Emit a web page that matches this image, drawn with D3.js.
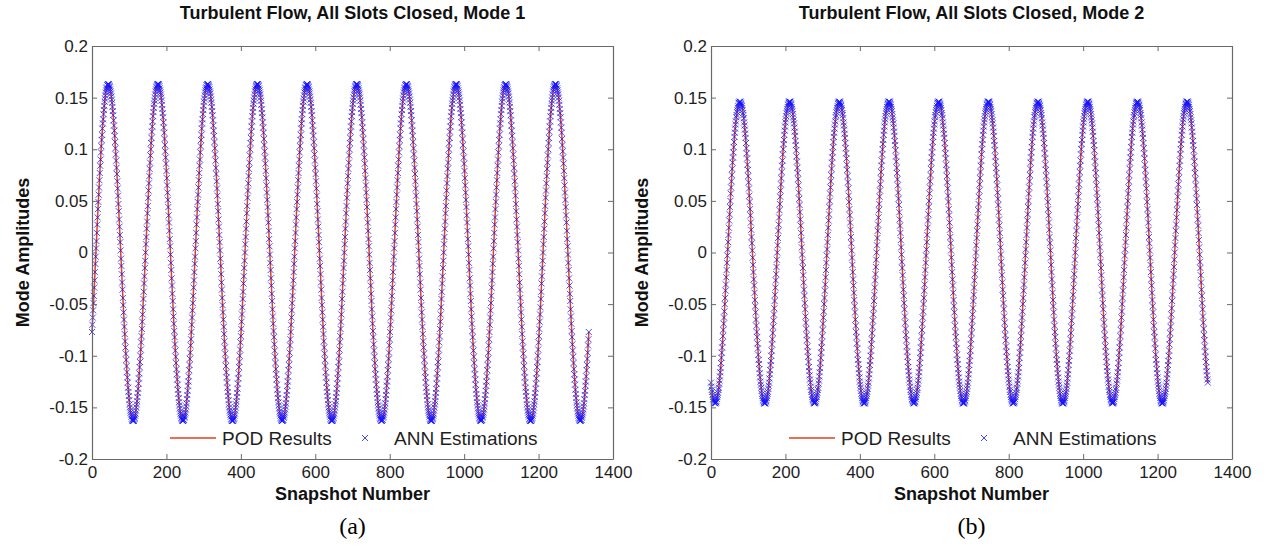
<!DOCTYPE html>
<html><head><meta charset="utf-8">
<script src="https://cdn.jsdelivr.net/npm/d3@7"></script>
<style>body{margin:0;background:#fff}svg{display:block}</style>
</head><body>
<svg id="chart" width="1267" height="551"></svg>
<script>
// ---------- data ----------
const titles = ["Turbulent Flow, All Slots Closed, Mode 1", "Turbulent Flow, All Slots Closed, Mode 2"];
const panelTags = ["(a)", "(b)"];
const seriesNames = ["POD Results", "ANN Estimations"];
const xTicks = [0, 200, 400, 600, 800, 1000, 1200, 1400];
const xTickLabels = ["0", "200", "400", "600", "800", "1000", "1200", "1400"];
const yTicks = [-0.2, -0.15, -0.1, -0.05, 0, 0.05, 0.1, 0.15, 0.2];
const yTickLabels = ["-0.2", "-0.15", "-0.1", "-0.05", "0", "0.05", "0.1", "0.15", "0.2"];

// POD mode amplitudes, one value per snapshot (0..1335)
const podMode1 = [
-.077,-.070,-.063,-.056,-.049,-.042,-.034,-.027,-.019,-.011,-.004,.004,.011,.019,.027,.034,.042,.049,.056,.063,.070,.077,.084,.090,.097,.103,.109,.114,.120,.125,.129,.134,.138,.142,.146,.149,.152,.155,.157,.159,.160,.162,.162,.163,.163,.163,.162,.161,.160,.158,.156,.154,.151,.148,.145,.141,.137,.133,.128,.123,.118,.113,.107,.101,.095,.089,.082,.076,.069,.062,.055,.047,.040,.032,.025,.017,.010,.002,-.006,-.013,-.021,-.029,-.036,-.044,-.051,-.058,-.065,-.072,-.079,-.086,-.092,-.098,-.104,-.110,-.116,-.121,-.126,-.131,-.135,-.139,-.143,-.147,-.150,-.153,-.155,-.157,-.159,-.161,-.162,-.163,-.163,-.163,-.163,-.162,-.161,-.160,-.158,-.156,-.153,-.150,-.147,-.144,-.140,-.136,-.132,-.127,-.122,-.117,-.111,-.106,-.100,-.094,-.087,-.081,-.074,-.067,-.060,-.053,-.045,-.038,-.030,-.023,-.015,-.008,0,.008,.015,.023,.030,.038,.045,.053,.060,.067,.074,.081,.087,.094,.100,.106,.111,.117,.122,.127,.132,.136,.140,.144,.147,.150,.153,.156,.158,.160,.161,.162,.163,.163,.163,.163,.162,.161,.159,.157,.155,.153,.150,.147,.143,.139,.135,.131,.126,.121,.116,.110,.104,.098,.092,.086,.079,.072,.065,.058,.051,.044,.036,.029,.021,.013,.006,-.002,-.010,-.017,-.025,-.032,-.040,-.047,-.055,-.062,-.069,-.076,-.082,-.089,-.095,-.101,-.107,-.113,-.118,-.123,-.128,-.133,-.137,-.141,-.145,-.148,-.151,-.154,-.156,-.158,-.160,-.161,-.162,-.163,-.163,-.163,-.162,-.162,-.160,-.159,-.157,-.155,-.152,-.149,-.146,-.142,-.138,-.134,-.129,-.125,-.120,-.114,-.109,-.103,-.097,-.090,-.084,
-.077,-.070,-.063,-.056,-.049,-.042,-.034,-.027,-.019,-.011,-.004,.004,.011,.019,.027,.034,.042,.049,.056,.063,.070,.077,.084,.090,.097,.103,.109,.114,.120,.125,.129,.134,.138,.142,.146,.149,.152,.155,.157,.159,.160,.162,.162,.163,.163,.163,.162,.161,.160,.158,.156,.154,.151,.148,.145,.141,.137,.133,.128,.123,.118,.113,.107,.101,.095,.089,.082,.076,.069,.062,.055,.047,.040,.032,.025,.017,.010,.002,-.006,-.013,-.021,-.029,-.036,-.044,-.051,-.058,-.065,-.072,-.079,-.086,-.092,-.098,-.104,-.110,-.116,-.121,-.126,-.131,-.135,-.139,-.143,-.147,-.150,-.153,-.155,-.157,-.159,-.161,-.162,-.163,-.163,-.163,-.163,-.162,-.161,-.160,-.158,-.156,-.153,-.150,-.147,-.144,-.140,-.136,-.132,-.127,-.122,-.117,-.111,-.106,-.100,-.094,-.087,-.081,-.074,-.067,-.060,-.053,-.045,-.038,-.030,-.023,-.015,-.008,0,.008,.015,.023,.030,.038,.045,.053,.060,.067,.074,.081,.087,.094,.100,.106,.111,.117,.122,.127,.132,.136,.140,.144,.147,.150,.153,.156,.158,.160,.161,.162,.163,.163,.163,.163,.162,.161,.159,.157,.155,.153,.150,.147,.143,.139,.135,.131,.126,.121,.116,.110,.104,.098,.092,.086,.079,.072,.065,.058,.051,.044,.036,.029,.021,.013,.006,-.002,-.010,-.017,-.025,-.032,-.040,-.047,-.055,-.062,-.069,-.076,-.082,-.089,-.095,-.101,-.107,-.113,-.118,-.123,-.128,-.133,-.137,-.141,-.145,-.148,-.151,-.154,-.156,-.158,-.160,-.161,-.162,-.163,-.163,-.163,-.162,-.162,-.160,-.159,-.157,-.155,-.152,-.149,-.146,-.142,-.138,-.134,-.129,-.125,-.120,-.114,-.109,-.103,-.097,-.090,-.084,
-.077,-.070,-.063,-.056,-.049,-.042,-.034,-.027,-.019,-.011,-.004,.004,.011,.019,.027,.034,.042,.049,.056,.063,.070,.077,.084,.090,.097,.103,.109,.114,.120,.125,.129,.134,.138,.142,.146,.149,.152,.155,.157,.159,.160,.162,.162,.163,.163,.163,.162,.161,.160,.158,.156,.154,.151,.148,.145,.141,.137,.133,.128,.123,.118,.113,.107,.101,.095,.089,.082,.076,.069,.062,.055,.047,.040,.032,.025,.017,.010,.002,-.006,-.013,-.021,-.029,-.036,-.044,-.051,-.058,-.065,-.072,-.079,-.086,-.092,-.098,-.104,-.110,-.116,-.121,-.126,-.131,-.135,-.139,-.143,-.147,-.150,-.153,-.155,-.157,-.159,-.161,-.162,-.163,-.163,-.163,-.163,-.162,-.161,-.160,-.158,-.156,-.153,-.150,-.147,-.144,-.140,-.136,-.132,-.127,-.122,-.117,-.111,-.106,-.100,-.094,-.087,-.081,-.074,-.067,-.060,-.053,-.045,-.038,-.030,-.023,-.015,-.008,0,.008,.015,.023,.030,.038,.045,.053,.060,.067,.074,.081,.087,.094,.100,.106,.111,.117,.122,.127,.132,.136,.140,.144,.147,.150,.153,.156,.158,.160,.161,.162,.163,.163,.163,.163,.162,.161,.159,.157,.155,.153,.150,.147,.143,.139,.135,.131,.126,.121,.116,.110,.104,.098,.092,.086,.079,.072,.065,.058,.051,.044,.036,.029,.021,.013,.006,-.002,-.010,-.017,-.025,-.032,-.040,-.047,-.055,-.062,-.069,-.076,-.082,-.089,-.095,-.101,-.107,-.113,-.118,-.123,-.128,-.133,-.137,-.141,-.145,-.148,-.151,-.154,-.156,-.158,-.160,-.161,-.162,-.163,-.163,-.163,-.162,-.162,-.160,-.159,-.157,-.155,-.152,-.149,-.146,-.142,-.138,-.134,-.129,-.125,-.120,-.114,-.109,-.103,-.097,-.090,-.084,
-.077,-.070,-.063,-.056,-.049,-.042,-.034,-.027,-.019,-.011,-.004,.004,.011,.019,.027,.034,.042,.049,.056,.063,.070,.077,.084,.090,.097,.103,.109,.114,.120,.125,.129,.134,.138,.142,.146,.149,.152,.155,.157,.159,.160,.162,.162,.163,.163,.163,.162,.161,.160,.158,.156,.154,.151,.148,.145,.141,.137,.133,.128,.123,.118,.113,.107,.101,.095,.089,.082,.076,.069,.062,.055,.047,.040,.032,.025,.017,.010,.002,-.006,-.013,-.021,-.029,-.036,-.044,-.051,-.058,-.065,-.072,-.079,-.086,-.092,-.098,-.104,-.110,-.116,-.121,-.126,-.131,-.135,-.139,-.143,-.147,-.150,-.153,-.155,-.157,-.159,-.161,-.162,-.163,-.163,-.163,-.163,-.162,-.161,-.160,-.158,-.156,-.153,-.150,-.147,-.144,-.140,-.136,-.132,-.127,-.122,-.117,-.111,-.106,-.100,-.094,-.087,-.081,-.074,-.067,-.060,-.053,-.045,-.038,-.030,-.023,-.015,-.008,0,.008,.015,.023,.030,.038,.045,.053,.060,.067,.074,.081,.087,.094,.100,.106,.111,.117,.122,.127,.132,.136,.140,.144,.147,.150,.153,.156,.158,.160,.161,.162,.163,.163,.163,.163,.162,.161,.159,.157,.155,.153,.150,.147,.143,.139,.135,.131,.126,.121,.116,.110,.104,.098,.092,.086,.079,.072,.065,.058,.051,.044,.036,.029,.021,.013,.006,-.002,-.010,-.017,-.025,-.032,-.040,-.047,-.055,-.062,-.069,-.076,-.082,-.089,-.095,-.101,-.107,-.113,-.118,-.123,-.128,-.133,-.137,-.141,-.145,-.148,-.151,-.154,-.156,-.158,-.160,-.161,-.162,-.163,-.163,-.163,-.162,-.162,-.160,-.159,-.157,-.155,-.152,-.149,-.146,-.142,-.138,-.134,-.129,-.125,-.120,-.114,-.109,-.103,-.097,-.090,-.084,
-.077,-.070,-.063,-.056,-.049,-.042,-.034,-.027,-.019,-.011,-.004,.004,.011,.019,.027,.034,.042,.049,.056,.063,.070,.077,.084,.090,.097,.103,.109,.114,.120,.125,.129,.134,.138,.142,.146,.149,.152,.155,.157,.159,.160,.162,.162,.163,.163,.163,.162,.161,.160,.158,.156,.154,.151,.148,.145,.141,.137,.133,.128,.123,.118,.113,.107,.101,.095,.089,.082,.076,.069,.062,.055,.047,.040,.032,.025,.017,.010,.002,-.006,-.013,-.021,-.029,-.036,-.044,-.051,-.058,-.065,-.072,-.079,-.086,-.092,-.098,-.104,-.110,-.116,-.121,-.126,-.131,-.135,-.139,-.143,-.147,-.150,-.153,-.155,-.157,-.159,-.161,-.162,-.163,-.163,-.163,-.163,-.162,-.161,-.160,-.158,-.156,-.153,-.150,-.147,-.144,-.140,-.136,-.132,-.127,-.122,-.117,-.111,-.106,-.100,-.094,-.087,-.081,-.074,-.067,-.060,-.053,-.045,-.038,-.030,-.023,-.015,-.008,0,.008,.015,.023,.030,.038,.045,.053,.060,.067,.074,.081,.087,.094,.100,.106,.111,.117,.122,.127,.132,.136,.140,.144,.147,.150,.153,.156,.158,.160,.161,.162,.163,.163,.163,.163,.162,.161,.159,.157,.155,.153,.150,.147,.143,.139,.135,.131,.126,.121,.116,.110,.104,.098,.092,.086,.079,.072,.065,.058,.051,.044,.036,.029,.021,.013,.006,-.002,-.010,-.017,-.025,-.032,-.040,-.047,-.055,-.062,-.069,-.076,-.082,-.089,-.095,-.101,-.107,-.113,-.118,-.123,-.128,-.133,-.137,-.141,-.145,-.148,-.151,-.154,-.156,-.158,-.160,-.161,-.162,-.163,-.163,-.163,-.162,-.162,-.160,-.159,-.157,-.155,-.152,-.149,-.146,-.142,-.138,-.134,-.129,-.125,-.120,-.114,-.109,-.103,-.097,-.090,-.084,
-.077];

const podMode2 = [
-.126,-.130,-.133,-.135,-.138,-.140,-.142,-.143,-.144,-.145,-.146,-.146,-.146,-.145,-.145,-.144,-.142,-.140,-.138,-.136,-.133,-.131,-.127,-.124,-.120,-.116,-.112,-.107,-.102,-.097,-.092,-.087,-.081,-.075,-.069,-.063,-.057,-.050,-.044,-.037,-.031,-.024,-.017,-.010,-.003,.003,.010,.017,.024,.031,.037,.044,.050,.057,.063,.069,.075,.081,.087,.092,.097,.102,.107,.112,.116,.120,.124,.127,.131,.133,.136,.138,.140,.142,.144,.145,.145,.146,.146,.146,.145,.144,.143,.142,.140,.138,.135,.133,.130,.126,.123,.119,.115,.111,.106,.101,.096,.091,.085,.080,.074,.068,.062,.055,.049,.042,.036,.029,.022,.015,.009,.002,-.005,-.012,-.019,-.026,-.032,-.039,-.046,-.052,-.058,-.065,-.071,-.077,-.082,-.088,-.093,-.099,-.104,-.108,-.113,-.117,-.121,-.125,-.128,-.131,-.134,-.137,-.139,-.141,-.143,-.144,-.145,-.146,-.146,-.146,-.146,-.145,-.144,-.143,-.141,-.139,-.137,-.135,-.132,-.129,-.126,-.122,-.118,-.114,-.109,-.105,-.100,-.095,-.089,-.084,-.078,-.072,-.066,-.060,-.054,-.047,-.041,-.034,-.027,-.021,-.014,-.007,0,.007,.014,.021,.027,.034,.041,.047,.054,.060,.066,.072,.078,.084,.089,.095,.100,.105,.109,.114,.118,.122,.126,.129,.132,.135,.137,.139,.141,.143,.144,.145,.146,.146,.146,.146,.145,.144,.143,.141,.139,.137,.134,.131,.128,.125,.121,.117,.113,.108,.104,.099,.093,.088,.082,.077,.071,.065,.058,.052,.046,.039,.032,.026,.019,.012,.005,-.002,-.009,-.015,-.022,-.029,-.036,-.042,-.049,-.055,-.062,-.068,-.074,-.080,-.085,-.091,-.096,-.101,-.106,-.111,-.115,-.119,-.123,
-.126,-.130,-.133,-.135,-.138,-.140,-.142,-.143,-.144,-.145,-.146,-.146,-.146,-.145,-.145,-.144,-.142,-.140,-.138,-.136,-.133,-.131,-.127,-.124,-.120,-.116,-.112,-.107,-.102,-.097,-.092,-.087,-.081,-.075,-.069,-.063,-.057,-.050,-.044,-.037,-.031,-.024,-.017,-.010,-.003,.003,.010,.017,.024,.031,.037,.044,.050,.057,.063,.069,.075,.081,.087,.092,.097,.102,.107,.112,.116,.120,.124,.127,.131,.133,.136,.138,.140,.142,.144,.145,.145,.146,.146,.146,.145,.144,.143,.142,.140,.138,.135,.133,.130,.126,.123,.119,.115,.111,.106,.101,.096,.091,.085,.080,.074,.068,.062,.055,.049,.042,.036,.029,.022,.015,.009,.002,-.005,-.012,-.019,-.026,-.032,-.039,-.046,-.052,-.058,-.065,-.071,-.077,-.082,-.088,-.093,-.099,-.104,-.108,-.113,-.117,-.121,-.125,-.128,-.131,-.134,-.137,-.139,-.141,-.143,-.144,-.145,-.146,-.146,-.146,-.146,-.145,-.144,-.143,-.141,-.139,-.137,-.135,-.132,-.129,-.126,-.122,-.118,-.114,-.109,-.105,-.100,-.095,-.089,-.084,-.078,-.072,-.066,-.060,-.054,-.047,-.041,-.034,-.027,-.021,-.014,-.007,0,.007,.014,.021,.027,.034,.041,.047,.054,.060,.066,.072,.078,.084,.089,.095,.100,.105,.109,.114,.118,.122,.126,.129,.132,.135,.137,.139,.141,.143,.144,.145,.146,.146,.146,.146,.145,.144,.143,.141,.139,.137,.134,.131,.128,.125,.121,.117,.113,.108,.104,.099,.093,.088,.082,.077,.071,.065,.058,.052,.046,.039,.032,.026,.019,.012,.005,-.002,-.009,-.015,-.022,-.029,-.036,-.042,-.049,-.055,-.062,-.068,-.074,-.080,-.085,-.091,-.096,-.101,-.106,-.111,-.115,-.119,-.123,
-.126,-.130,-.133,-.135,-.138,-.140,-.142,-.143,-.144,-.145,-.146,-.146,-.146,-.145,-.145,-.144,-.142,-.140,-.138,-.136,-.133,-.131,-.127,-.124,-.120,-.116,-.112,-.107,-.102,-.097,-.092,-.087,-.081,-.075,-.069,-.063,-.057,-.050,-.044,-.037,-.031,-.024,-.017,-.010,-.003,.003,.010,.017,.024,.031,.037,.044,.050,.057,.063,.069,.075,.081,.087,.092,.097,.102,.107,.112,.116,.120,.124,.127,.131,.133,.136,.138,.140,.142,.144,.145,.145,.146,.146,.146,.145,.144,.143,.142,.140,.138,.135,.133,.130,.126,.123,.119,.115,.111,.106,.101,.096,.091,.085,.080,.074,.068,.062,.055,.049,.042,.036,.029,.022,.015,.009,.002,-.005,-.012,-.019,-.026,-.032,-.039,-.046,-.052,-.058,-.065,-.071,-.077,-.082,-.088,-.093,-.099,-.104,-.108,-.113,-.117,-.121,-.125,-.128,-.131,-.134,-.137,-.139,-.141,-.143,-.144,-.145,-.146,-.146,-.146,-.146,-.145,-.144,-.143,-.141,-.139,-.137,-.135,-.132,-.129,-.126,-.122,-.118,-.114,-.109,-.105,-.100,-.095,-.089,-.084,-.078,-.072,-.066,-.060,-.054,-.047,-.041,-.034,-.027,-.021,-.014,-.007,0,.007,.014,.021,.027,.034,.041,.047,.054,.060,.066,.072,.078,.084,.089,.095,.100,.105,.109,.114,.118,.122,.126,.129,.132,.135,.137,.139,.141,.143,.144,.145,.146,.146,.146,.146,.145,.144,.143,.141,.139,.137,.134,.131,.128,.125,.121,.117,.113,.108,.104,.099,.093,.088,.082,.077,.071,.065,.058,.052,.046,.039,.032,.026,.019,.012,.005,-.002,-.009,-.015,-.022,-.029,-.036,-.042,-.049,-.055,-.062,-.068,-.074,-.080,-.085,-.091,-.096,-.101,-.106,-.111,-.115,-.119,-.123,
-.126,-.130,-.133,-.135,-.138,-.140,-.142,-.143,-.144,-.145,-.146,-.146,-.146,-.145,-.145,-.144,-.142,-.140,-.138,-.136,-.133,-.131,-.127,-.124,-.120,-.116,-.112,-.107,-.102,-.097,-.092,-.087,-.081,-.075,-.069,-.063,-.057,-.050,-.044,-.037,-.031,-.024,-.017,-.010,-.003,.003,.010,.017,.024,.031,.037,.044,.050,.057,.063,.069,.075,.081,.087,.092,.097,.102,.107,.112,.116,.120,.124,.127,.131,.133,.136,.138,.140,.142,.144,.145,.145,.146,.146,.146,.145,.144,.143,.142,.140,.138,.135,.133,.130,.126,.123,.119,.115,.111,.106,.101,.096,.091,.085,.080,.074,.068,.062,.055,.049,.042,.036,.029,.022,.015,.009,.002,-.005,-.012,-.019,-.026,-.032,-.039,-.046,-.052,-.058,-.065,-.071,-.077,-.082,-.088,-.093,-.099,-.104,-.108,-.113,-.117,-.121,-.125,-.128,-.131,-.134,-.137,-.139,-.141,-.143,-.144,-.145,-.146,-.146,-.146,-.146,-.145,-.144,-.143,-.141,-.139,-.137,-.135,-.132,-.129,-.126,-.122,-.118,-.114,-.109,-.105,-.100,-.095,-.089,-.084,-.078,-.072,-.066,-.060,-.054,-.047,-.041,-.034,-.027,-.021,-.014,-.007,0,.007,.014,.021,.027,.034,.041,.047,.054,.060,.066,.072,.078,.084,.089,.095,.100,.105,.109,.114,.118,.122,.126,.129,.132,.135,.137,.139,.141,.143,.144,.145,.146,.146,.146,.146,.145,.144,.143,.141,.139,.137,.134,.131,.128,.125,.121,.117,.113,.108,.104,.099,.093,.088,.082,.077,.071,.065,.058,.052,.046,.039,.032,.026,.019,.012,.005,-.002,-.009,-.015,-.022,-.029,-.036,-.042,-.049,-.055,-.062,-.068,-.074,-.080,-.085,-.091,-.096,-.101,-.106,-.111,-.115,-.119,-.123,
-.126,-.130,-.133,-.135,-.138,-.140,-.142,-.143,-.144,-.145,-.146,-.146,-.146,-.145,-.145,-.144,-.142,-.140,-.138,-.136,-.133,-.131,-.127,-.124,-.120,-.116,-.112,-.107,-.102,-.097,-.092,-.087,-.081,-.075,-.069,-.063,-.057,-.050,-.044,-.037,-.031,-.024,-.017,-.010,-.003,.003,.010,.017,.024,.031,.037,.044,.050,.057,.063,.069,.075,.081,.087,.092,.097,.102,.107,.112,.116,.120,.124,.127,.131,.133,.136,.138,.140,.142,.144,.145,.145,.146,.146,.146,.145,.144,.143,.142,.140,.138,.135,.133,.130,.126,.123,.119,.115,.111,.106,.101,.096,.091,.085,.080,.074,.068,.062,.055,.049,.042,.036,.029,.022,.015,.009,.002,-.005,-.012,-.019,-.026,-.032,-.039,-.046,-.052,-.058,-.065,-.071,-.077,-.082,-.088,-.093,-.099,-.104,-.108,-.113,-.117,-.121,-.125,-.128,-.131,-.134,-.137,-.139,-.141,-.143,-.144,-.145,-.146,-.146,-.146,-.146,-.145,-.144,-.143,-.141,-.139,-.137,-.135,-.132,-.129,-.126,-.122,-.118,-.114,-.109,-.105,-.100,-.095,-.089,-.084,-.078,-.072,-.066,-.060,-.054,-.047,-.041,-.034,-.027,-.021,-.014,-.007,0,.007,.014,.021,.027,.034,.041,.047,.054,.060,.066,.072,.078,.084,.089,.095,.100,.105,.109,.114,.118,.122,.126,.129,.132,.135,.137,.139,.141,.143,.144,.145,.146,.146,.146,.146,.145,.144,.143,.141,.139,.137,.134,.131,.128,.125,.121,.117,.113,.108,.104,.099,.093,.088,.082,.077,.071,.065,.058,.052,.046,.039,.032,.026,.019,.012,.005,-.002,-.009,-.015,-.022,-.029,-.036,-.042,-.049,-.055,-.062,-.068,-.074,-.080,-.085,-.091,-.096,-.101,-.106,-.111,-.115,-.119,-.123,
-.126];

// ANN estimations coincide with the POD results at every snapshot in the figure
const annMode1 = podMode1.slice();
const annMode2 = podMode2.slice();

// ---------- layout ----------
const W = 1267, H = 551;
const plotTop = 46, plotBottom = 459;
const panels = [
  {left: 92, right: 613, pod: podMode1, ann: annMode1, title: titles[0], tag: panelTags[0], ylabX: 22},
  {left: 711, right: 1232, pod: podMode2, ann: annMode2, title: titles[1], tag: panelTags[1], ylabX: 641}
];
const FONT = "'Liberation Sans', Arial, Helvetica, sans-serif";
const frameColor = "#6a6a6a";
const podColor = "#e2401a";
const annColor = "#1414ff";
const xMark = "M-3,-3L3,3M-3,3L3,-3";

const svg = d3.select("#chart");
svg.append("rect").attr("width", W).attr("height", H).attr("fill", "#fff");

panels.forEach(p => {
  const x = d3.scaleLinear().domain([0, 1400]).range([p.left, p.right]);
  const y = d3.scaleLinear().domain([-0.2, 0.2]).range([plotBottom, plotTop]);
  const g = svg.append("g");
  const cx = (p.left + p.right) / 2;

  // POD line
  const line = d3.line().x((d, i) => x(i)).y(d => y(d));
  g.append("path").datum(p.pod).attr("d", line)
    .attr("fill", "none").attr("stroke", podColor).attr("stroke-width", 1.5);

  // ANN markers
  g.append("g").selectAll("path").data(p.ann).join("path")
    .attr("transform", (d, i) => `translate(${x(i).toFixed(2)},${y(d).toFixed(2)})`)
    .attr("d", xMark).attr("fill", "none")
    .attr("stroke", annColor).attr("stroke-width", 0.9).attr("stroke-opacity", 0.85);

  // axes (ticks inward, mirrored box)
  const styleAxis = sel => {
    sel.selectAll(".domain").attr("stroke", frameColor).attr("stroke-width", 1.2);
    sel.selectAll(".tick line").attr("stroke", frameColor).attr("stroke-width", 1);
    sel.selectAll(".tick text").attr("font-family", FONT).attr("font-size", 17).attr("fill", "#1e1e1e");
  };
  g.append("g").attr("transform", `translate(0,${plotBottom})`)
    .call(d3.axisBottom(x).tickValues(xTicks).tickFormat((d, i) => xTickLabels[i])
      .tickSizeInner(-5).tickSizeOuter(0).tickPadding(7))
    .call(styleAxis);
  g.append("g").attr("transform", `translate(0,${plotTop})`)
    .call(d3.axisTop(x).tickValues(xTicks).tickFormat("").tickSizeInner(-5).tickSizeOuter(0))
    .call(styleAxis);
  g.append("g").attr("transform", `translate(${p.left},0)`)
    .call(d3.axisLeft(y).tickValues(yTicks).tickFormat((d, i) => yTickLabels[i])
      .tickSizeInner(-5).tickSizeOuter(0).tickPadding(4))
    .call(styleAxis);
  g.append("g").attr("transform", `translate(${p.right},0)`)
    .call(d3.axisRight(y).tickValues(yTicks).tickFormat("").tickSizeInner(-5).tickSizeOuter(0))
    .call(styleAxis);
  g.selectAll("g").attr("font-family", FONT);

  // title
  g.append("text").attr("x", cx).attr("y", 19).attr("text-anchor", "middle")
    .attr("font-family", FONT).attr("font-weight", "bold").attr("font-size", 18)
    .attr("fill", "#111").text(p.title);
  // x label
  g.append("text").attr("x", cx).attr("y", 500).attr("text-anchor", "middle")
    .attr("font-family", FONT).attr("font-weight", "bold").attr("font-size", 18)
    .attr("fill", "#111").text("Snapshot Number");
  // y label
  g.append("text").attr("transform", `translate(${p.ylabX + 6.5},${(plotTop + plotBottom) / 2}) rotate(-90)`)
    .attr("text-anchor", "middle")
    .attr("font-family", FONT).attr("font-weight", "bold").attr("font-size", 18)
    .attr("fill", "#111").text("Mode Amplitudes");
  // panel tag
  g.append("text").attr("x", cx).attr("y", 534).attr("text-anchor", "middle")
    .attr("font-family", "'Liberation Serif', 'DejaVu Serif', serif").attr("font-size", 24)
    .attr("fill", "#000").text(p.tag);

  // legend
  const ly = 438;
  g.append("line").attr("x1", p.left + 78).attr("x2", p.left + 124).attr("y1", ly).attr("y2", ly)
    .attr("stroke", podColor).attr("stroke-width", 1.6);
  g.append("text").attr("x", p.left + 130).attr("y", ly + 6.8)
    .attr("font-family", FONT).attr("font-size", 19).attr("fill", "#1e1e1e").text(seriesNames[0]);
  g.append("path").attr("d", xMark).attr("transform", `translate(${p.left + 273},${ly})`)
    .attr("fill", "none").attr("stroke", annColor).attr("stroke-width", 0.8);
  g.append("text").attr("x", p.left + 302).attr("y", ly + 6.8)
    .attr("font-family", FONT).attr("font-size", 19).attr("fill", "#1e1e1e").text(seriesNames[1]);
});
</script>
</body></html>
